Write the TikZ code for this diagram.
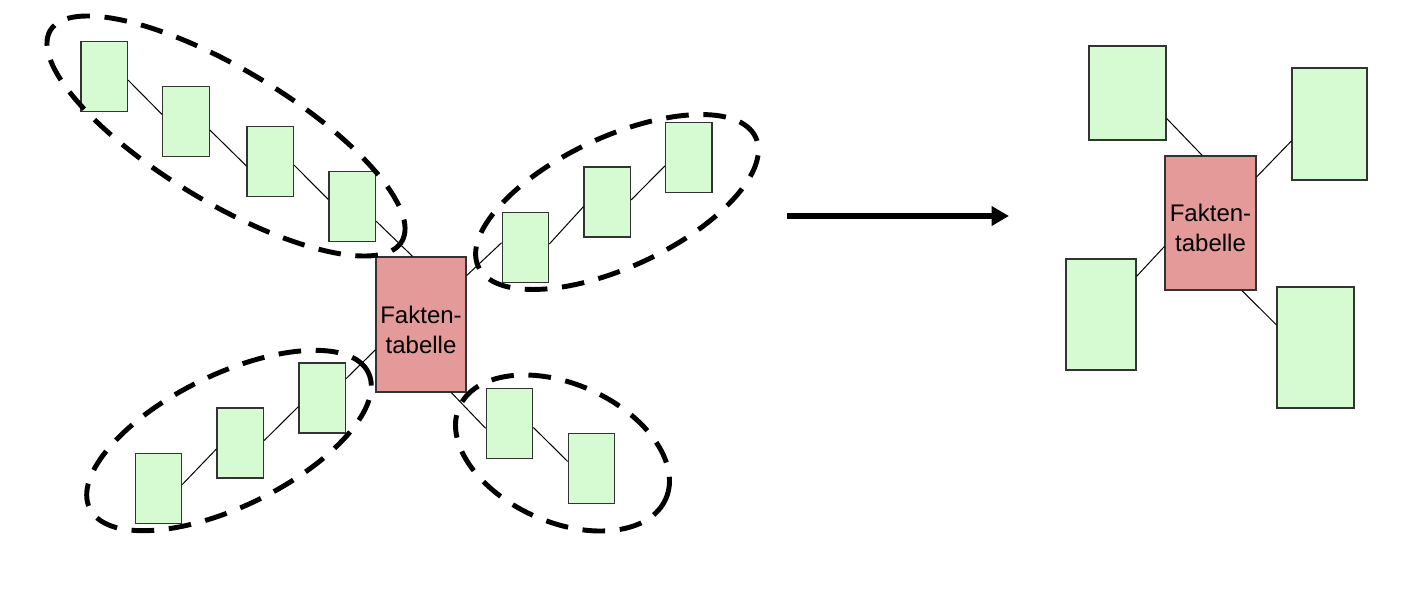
\documentclass[tikz,border=0pt]{standalone}
\usepackage{fontspec}
\setmainfont{Liberation Sans}
\usepackage{tikz}
\usetikzlibrary{arrows.meta}
\definecolor{dimgreen}{RGB}{214,251,210}
\definecolor{factred}{RGB}{228,154,152}
\definecolor{boxline}{RGB}{51,51,51}
\newcommand{\factlabel}{\rule{0pt}{20.6pt}Fakten-\\tabelle}

\begin{document}
\begin{tikzpicture}[x=0.75pt, y=-0.75pt,
    dimbox/.style={draw=boxline, line width=0.9pt, fill=dimgreen, inner sep=0pt,
        minimum width=34.9pt, minimum height=52.5pt},
    factbox/.style={draw=boxline, line width=0.9pt, fill=factred, inner sep=0pt,
        align=center, font=\fontsize{18}{22.5}\selectfont},
    link/.style={black, line width=0.75pt},
    group/.style={black, line width=3.7pt, dash pattern=on 17pt off 11pt}]
    \useasboundingbox (0,0) rectangle (1410,590);

    % Snowflake: fact table with normalized dimensions
    \node[factbox, minimum width=67.5pt, minimum height=101.25pt] (ft) at (421,324.5) {\factlabel};

    % Upper left chain
    \node[dimbox] (a1) at (104.2,76.7) {};
    \node[dimbox] (a2) at (186,121.8) {};
    \node[dimbox] (a3) at (270.2,161.7) {};
    \node[dimbox] (a4) at (352.2,206.8) {};
    \draw[link] (a1.-8) -- (a2.163.5);
    \draw[link] (a2.-19.4) -- (a3.190.5);
    \draw[link] (a3.-8) -- (a4.163.7);
    \draw[link] (a4.-31.6) -- (ft.97.6);

    % Upper right chain
    \node[dimbox] (b1) at (525.5,247.3) {};
    \node[dimbox] (b2) at (607.3,202) {};
    \node[dimbox] (b3) at (688.8,157.2) {};
    \draw[link] (ft.47.7) -- (b1.169.5);
    \draw[link] (b1.8) -- (b2.191.4);
    \draw[link] (b2.5) -- (b3.200.2);

    % Lower left chain
    \node[dimbox] (c1) at (322.2,398) {};
    \node[dimbox] (c2) at (240.3,443) {};
    \node[dimbox] (c3) at (158.5,488.2) {};
    \draw[link] (ft.209.5) -- (c1.39);
    \draw[link] (c1.200.6) -- (c2.6.6);
    \draw[link] (c2.194.4) -- (c3.9.5);

    % Lower right chain
    \node[dimbox] (d1) at (509.5,423.7) {};
    \node[dimbox] (d2) at (591.5,468.7) {};
    \draw[link] (ft.-66.7) -- (d1.191.2);
    \draw[link] (d1.-9.8) -- (d2.163.2);

    % Dashed groups
    \draw[group] (226,136) ellipse [x radius=153.75pt, y radius=49.9pt, rotate=-31];
    \draw[group] (617,202) ellipse [x radius=114.75pt, y radius=48.75pt, rotate=25];
    \draw[group] (229,440.5) ellipse [x radius=116.25pt, y radius=49.5pt, rotate=26];
    \draw[group] (562.5,453) ellipse [x radius=84.75pt, y radius=51.75pt, rotate=-24];

    % Transition arrow
    \coordinate (arrS) at (787,216);
    \coordinate (arrE) at (1009,216);
    \draw[line width=4pt, -{Triangle[length=13pt, width=14pt]}] (arrS) -- (arrE);

    % Star: fact table with flat dimensions
    \node[factbox, minimum width=68.25pt, minimum height=100.5pt] (ft2) at (1210.5,223) {\factlabel};
    \node[dimbox, minimum width=57.75pt, minimum height=70.5pt] (tl) at (1127.5,93) {};
    \node[dimbox, minimum width=56.25pt, minimum height=84pt] (tr) at (1329.5,124) {};
    \node[dimbox, minimum width=52.5pt, minimum height=83.25pt] (bl) at (1101,314.5) {};
    \node[dimbox, minimum width=57.75pt, minimum height=90.75pt] (br) at (1315.5,347.5) {};
    \draw[link] (tl.-33) -- (ft2.97.2);
    \draw[link] (tr.204.4) -- (ft2.45.9);
    \draw[link] (bl.47.9) -- (ft2.207.5);
    \draw[link] (br.150.8) -- (ft2.-65.5);
\end{tikzpicture}
\end{document}
